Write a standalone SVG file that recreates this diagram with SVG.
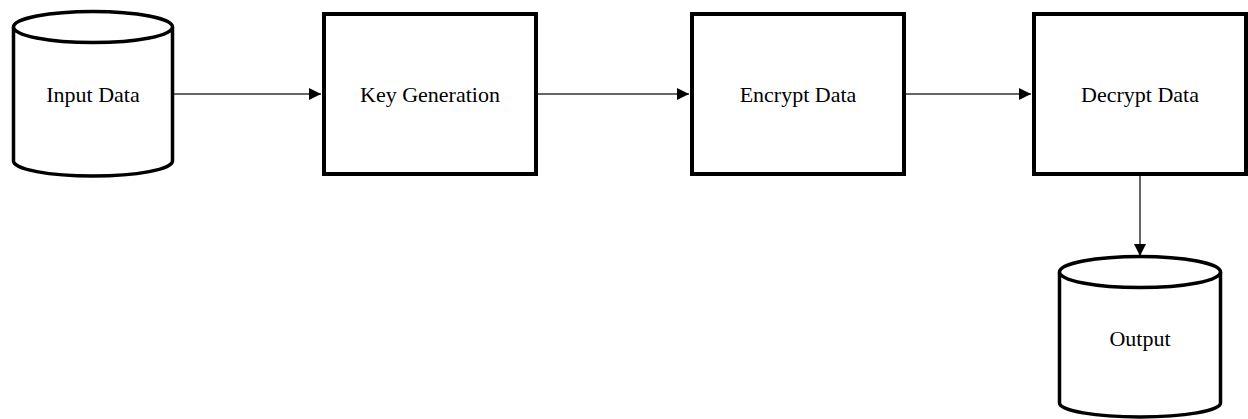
<svg xmlns="http://www.w3.org/2000/svg" width="1248" height="419" viewBox="0 0 1248 419">
<style>
.box{fill:#fff;stroke:#000;stroke-width:4}
.cyl{fill:#fff;stroke:#000;stroke-width:3.5}
.lbl{font-family:"Liberation Serif","Times New Roman",serif;font-size:22px;fill:#000;text-anchor:middle;dominant-baseline:central}
.edge{fill:none;stroke:#333;stroke-width:1.5}
</style>
<defs>
<marker id="arr" markerUnits="userSpaceOnUse" markerWidth="14" markerHeight="14" refX="12" refY="6" orient="auto">
<path d="M0,0 L12,6 L0,12 z" fill="#000"/>
</marker>
</defs>
<rect width="1248" height="419" fill="#fff"/>
<g id="connectors">
<line class="edge" x1="174" y1="94" x2="321" y2="94" marker-end="url(#arr)"/>
<line class="edge" x1="538" y1="94" x2="689" y2="94" marker-end="url(#arr)"/>
<line class="edge" x1="906" y1="94" x2="1031" y2="94" marker-end="url(#arr)"/>
<line class="edge" x1="1140" y1="176" x2="1140" y2="256" marker-end="url(#arr)"/>
</g>
<g id="input-data">
<path class="cyl" d="M13.5,27 L13.5,161 A79.5,15 0 0 0 172.5,161 L172.5,27"/>
<ellipse class="cyl" cx="93" cy="27" rx="79.5" ry="15.5"/>
<text class="lbl" x="93" y="94">Input Data</text>
</g>
<g id="key-generation">
<rect class="box" x="324" y="14" width="212" height="160"/>
<text class="lbl" x="430" y="94">Key Generation</text>
</g>
<g id="encrypt-data">
<rect class="box" x="692" y="14" width="212" height="160"/>
<text class="lbl" x="798" y="94">Encrypt Data</text>
</g>
<g id="decrypt-data">
<rect class="box" x="1034" y="14" width="212" height="160"/>
<text class="lbl" x="1140" y="94">Decrypt Data</text>
</g>
<g id="output">
<path class="cyl" d="M1059.5,272 L1059.5,403 A80.5,14 0 0 0 1220.5,403 L1220.5,272"/>
<ellipse class="cyl" cx="1140" cy="272" rx="80.5" ry="15.5"/>
<text class="lbl" x="1140" y="338">Output</text>
</g>
</svg>
